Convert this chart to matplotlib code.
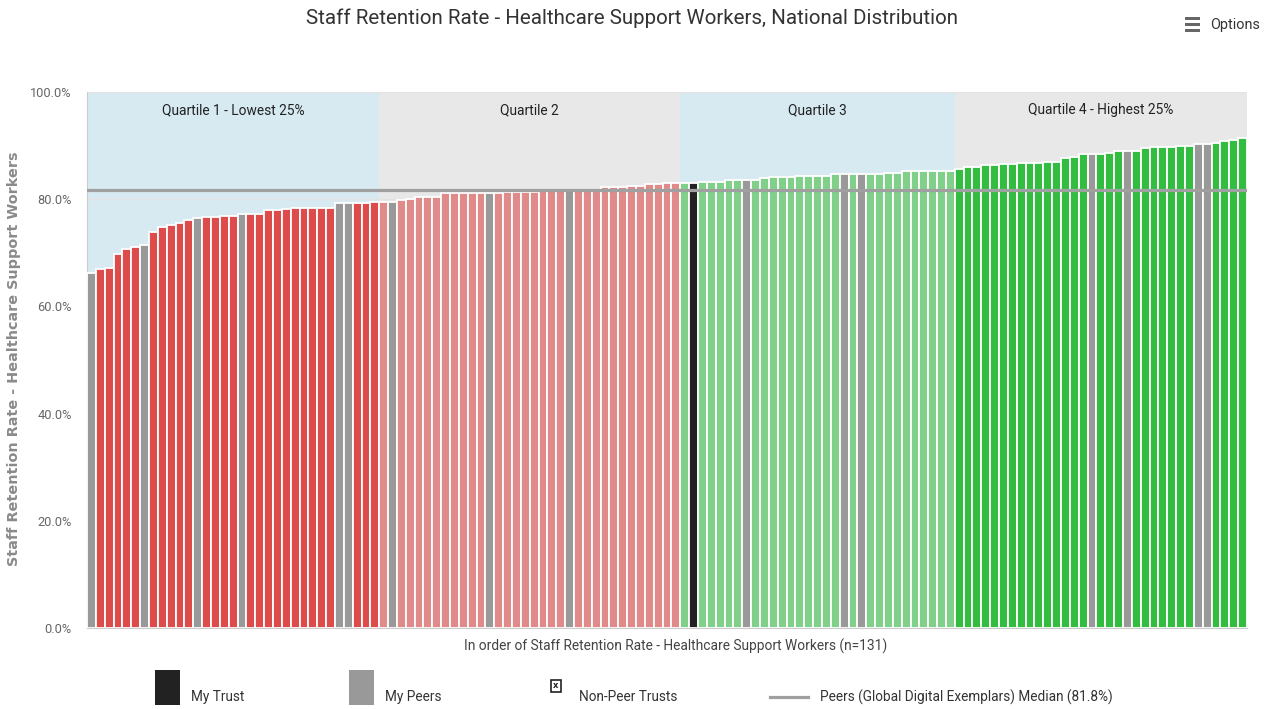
import matplotlib
matplotlib.use("Agg")
import matplotlib.pyplot as plt
from matplotlib.patches import Rectangle
from matplotlib.lines import Line2D

# ---------------- data ----------------
values = [
    # Quartile 1
    66.2, 67.0, 67.2, 69.7, 70.7, 71.0, 71.5, 73.8, 74.8, 75.1, 75.6, 76.1, 76.4,
    76.6, 76.7, 76.9, 76.9, 77.2, 77.2, 77.2, 78.0, 78.0, 78.2, 78.4, 78.4, 78.4,
    78.4, 78.4, 79.2, 79.2, 79.2, 79.2, 79.5,
    # Quartile 2
    79.5, 79.5, 79.9, 80.0, 80.4, 80.4, 80.4, 81.1, 81.1, 81.1, 81.1, 81.1, 81.1,
    81.1, 81.3, 81.3, 81.3, 81.3, 81.6, 81.6, 81.6, 81.6, 81.6, 81.6, 81.6, 82.2,
    82.2, 82.2, 82.5, 82.5, 82.8, 82.8, 83.0, 83.0,
    # Quartile 3
    83.0, 83.0, 83.3, 83.3, 83.3, 83.6, 83.6, 83.6, 83.6, 83.9, 84.1, 84.1, 84.1,
    84.4, 84.4, 84.4, 84.4, 84.7, 84.7, 84.7, 84.7, 84.7, 84.7, 84.9, 84.9, 85.2,
    85.2, 85.2, 85.2, 85.2, 85.2,
    # Quartile 4
    85.7, 86.0, 86.0, 86.3, 86.3, 86.5, 86.5, 86.8, 86.8, 86.8, 87.0, 87.0, 87.6,
    87.9, 88.4, 88.4, 88.4, 88.7, 89.0, 89.0, 89.0, 89.5, 89.8, 89.8, 89.8, 90.0,
    90.0, 90.3, 90.3, 90.5, 90.9, 91.1, 91.4,
]
peer_index = [0, 6, 12, 17, 28, 29, 34, 45, 54, 74, 85, 87, 113, 117, 125, 126]
my_trust_index = [68]
quartile_sizes = [33, 34, 31, 33]
quartile_labels = ["Quartile 1 - Lowest 25%", "Quartile 2", "Quartile 3",
                   "Quartile 4 - Highest 25%"]
median_value = 81.8
y_ticks = [0, 20, 40, 60, 80, 100]

title = "Staff Retention Rate - Healthcare Support Workers, National Distribution"
y_title = "Staff Retention Rate - Healthcare Support Workers"
x_title = "In order of Staff Retention Rate - Healthcare Support Workers (n=131)"
legend_labels = ["My Trust", "My Peers", "Non-Peer Trusts",
                 "Peers (Global Digital Exemplars) Median (81.8%)"]

# ---------------- style ----------------
quart_colors = ["#de4b4b", "#e08a8a", "#80d08a", "#33bd40"]
band_colors = ["#d7eaf2", "#e8e8e8", "#d7eaf2", "#e8e8e8"]
peer_color = "#999999"
trust_color = "#222222"
NARROW = ["Roboto", "DejaVu Sans"]

n = len(values)
quartile_of = []
for q, size in enumerate(quartile_sizes):
    quartile_of += [q] * size
colors = []
for i in range(n):
    if i in my_trust_index:
        colors.append(trust_color)
    elif i in peer_index:
        colors.append(peer_color)
    else:
        colors.append(quart_colors[quartile_of[i]])

W, H = 1269, 709
fig = plt.figure(figsize=(W / 100, H / 100), dpi=100)
ax = fig.add_axes([87 / W, 1 - 628 / H, (1247 - 87) / W, (628 - 92) / H])

x = list(range(n))
ax.bar(x, values, width=1.0, color=colors, edgecolor="white", linewidth=1.3, zorder=3)

# quartile bands
start = 0
for q, size in enumerate(quartile_sizes):
    ax.axvspan(start - 0.5, start + size - 0.5, ymin=0, ymax=1,
               color=band_colors[q], zorder=0, lw=0)
    ax.text(start + size / 2 - 0.5, 96.6, quartile_labels[q], ha="center", va="center",
            fontsize=9.9, color="#222222", family=NARROW, zorder=5)
    start += size

ax.axhline(median_value, color="#a0a0a0", lw=2.3, zorder=4)

ax.set_xlim(-0.5, n - 0.5)
ax.set_ylim(0, 100)
ax.set_yticks(y_ticks)
ax.set_yticklabels([f"{t:.1f}%" for t in y_ticks], family=NARROW, fontsize=9.2,
                   color="#666666")
ax.tick_params(axis="y", length=0, pad=11)
ax.set_xticks([])
ax.set_axisbelow(True)
ax.yaxis.grid(True, color="#e2e2e2", lw=1)
for s in ["top", "right"]:
    ax.spines[s].set_visible(False)
ax.spines["left"].set_color("#cccccc")
ax.spines["bottom"].set_color("#cccccc")
ax.set_facecolor("white")

# titles
fig.text(632 / W, 1 - 18 / H, title, ha="center", va="center", fontsize=14.8,
         color="#333333", family=NARROW)
fig.text(14 / W, 1 - 359 / H, y_title, ha="center", va="center", rotation=90,
         fontsize=10.4, fontweight="bold", color="#8a8a8a", family="DejaVu Sans")
fig.text(676 / W, 1 - 646 / H, x_title, ha="center", va="center", fontsize=9.9,
         color="#444444", family=NARROW)

# Options button
for yy in [18, 24, 30]:
    fig.add_artist(Rectangle((1185 / W, 1 - (yy + 1.5) / H), 15 / W, 3 / H,
                             transform=fig.transFigure, color="#666666", lw=0))
fig.text(1210 / W, 1 - 25 / H, "Options", ha="left", va="center", fontsize=10.4,
         color="#333333", family=NARROW)

# legend
fig.add_artist(Rectangle((155 / W, 1 - 705 / H), 25 / W, 35 / H,
                         transform=fig.transFigure, color=trust_color, lw=0))
fig.text(191 / W, 1 - 697 / H, legend_labels[0], ha="left", va="center",
         fontsize=9.8, color="#333333", family=NARROW)
fig.add_artist(Rectangle((349 / W, 1 - 705 / H), 25 / W, 35 / H,
                         transform=fig.transFigure, color=peer_color, lw=0))
fig.text(385 / W, 1 - 697 / H, legend_labels[1], ha="left", va="center",
         fontsize=9.8, color="#333333", family=NARROW)
fig.add_artist(Rectangle((551 / W, 1 - 692 / H), 10 / W, 12 / H,
                         transform=fig.transFigure, facecolor="white",
                         edgecolor="#222222", lw=1.2))
fig.text(556 / W, 1 - 686 / H, "x", ha="center", va="center", fontsize=6,
         color="#222222", fontweight="bold")
fig.text(579 / W, 1 - 697 / H, legend_labels[2], ha="left", va="center",
         fontsize=9.8, color="#333333", family=NARROW)
fig.add_artist(Line2D([770 / W, 808 / W], [1 - 697 / H, 1 - 697 / H],
                      transform=fig.transFigure, color="#a0a0a0", lw=2.3))
fig.text(820 / W, 1 - 697 / H, legend_labels[3], ha="left", va="center",
         fontsize=9.8, color="#333333", family=NARROW)

fig.savefig("out.png", dpi=100, facecolor="white")
